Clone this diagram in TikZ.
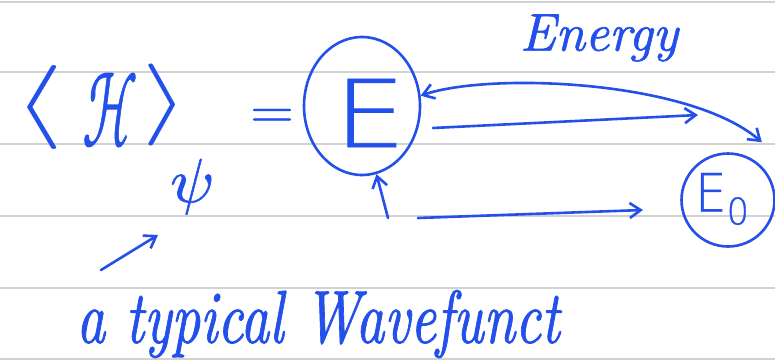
\documentclass[tikz,border=0pt]{standalone}
\usepackage{graphicx}
\usepackage{fontspec}
\newfontfamily\handit{lmroman10-italic.otf}[FakeBold=1.2]
\newfontfamily\handsans{DejaVu Sans ExtraLight}[FakeBold=0.8]
\newfontfamily\handmath{latinmodern-math.otf}[FakeBold=1]
\newfontfamily\plainmath{latinmodern-math.otf}
\usetikzlibrary{arrows.meta,shapes.geometric}
\definecolor{ink}{RGB}{35,80,235}
\definecolor{rulegray}{RGB}{210,210,210}
\newcommand{\flatbox}[1]{\vbox{\hbox{#1}\kern0pt}}
\begin{document}
\begin{tikzpicture}[x=1pt,y=-1pt,
  pen/.style={draw=ink, line width=2.6pt, line cap=round, line join=round},
  tipb/.style={-{Straight Barb[length=11pt,width=15pt]}},
  txt/.style={inner sep=0pt, text=ink},
  ruling/.style={draw=rulegray, line width=2pt}]
\fill[white] (0,0) rectangle (775,361);
\useasboundingbox (0,0) rectangle (775,361);
% ruled lines
\foreach \yy in {2,72,144,216,288,359} \draw[ruling] (0,\yy) -- (775,\yy);
% left-hand side
\node[txt] (lang) at (39,107) {\resizebox*{50pt}{84pt}{\plainmath ⟨}};
\node[txt] (ham)  at (110,110) {\resizebox*{55pt}{74pt}{\handmath ℋ}};
\node[txt, anchor=south west] (rangpsi) at (142,215)
  {\rlap{\raisebox{69pt}{\resizebox*{46pt}{82pt}{\flatbox{\plainmath ⟩}}}}\hspace*{28pt}\resizebox*{42pt}{56pt}{\flatbox{\handmath 𝜓}}};
\node[txt] (eq)   at (272,118) {\resizebox*{44pt}{18pt}{\handmath =}};
% E circled
\node[ellipse, pen, minimum width=116pt, minimum height=138pt, inner sep=0pt] (Ec) at (362,106) {};
\node[txt] (E) at (370,113) {\resizebox*{72pt}{68pt}{\handsans E}};
% E0 circled
\node[circle, pen, minimum size=93pt, inner sep=0pt] (E0c) at (728,200) {};
\node[txt] (E0) at (722,199) {\resizebox*{54pt}{52pt}{\handsans E\raisebox{-0.25em}{\scriptsize 0}}};
% labels
\node[txt] (energy) at (599,38) {\resizebox*{158pt}{47pt}{\handit Energy}};
\node[txt] (wave) at (318,324) {\resizebox*{483pt}{68pt}{\handit a typical Wavefunct}};
% connectors
\draw[pen, {Straight Barb[length=11pt,width=15pt]}-{Straight Barb[length=11pt,width=15pt]}]
  (Ec.10) .. controls (490,72) and (690,80) .. ([yshift=24pt]E0c.45);
\coordinate (a1s) at (433,128);
\coordinate (a1e) at (698,115);
\draw[pen, tipb] (a1s) -- (a1e);
\coordinate (a2s) at (388,218);
\draw[pen, tipb] (a2s) -- (Ec.-78);
\coordinate (a3s) at (418,218);
\coordinate (a3e) at (643,210);
\draw[pen, tipb] (a3s) -- (a3e);
\coordinate (a4s) at (101,270);
\coordinate (a4e) at (158,235);
\draw[pen, tipb] (a4s) -- (a4e);
\end{tikzpicture}
\end{document}
